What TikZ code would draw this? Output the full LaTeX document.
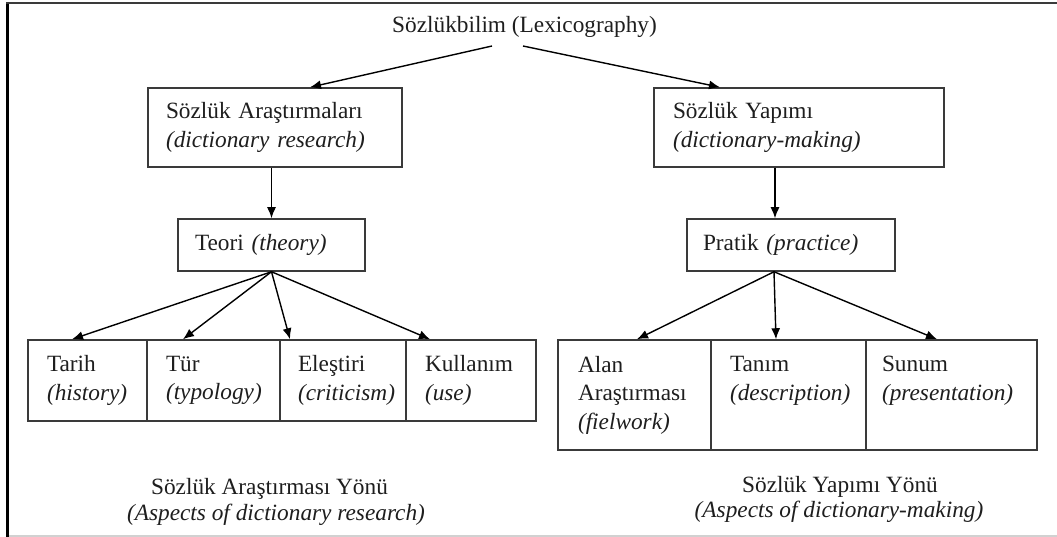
\documentclass[tikz,border=0pt]{standalone}
\usepackage{fontspec}
\setmainfont{Liberation Serif}
\usetikzlibrary{arrows.meta,calc}
\definecolor{boxc}{HTML}{3A3A3A}
\definecolor{txtc}{HTML}{1E1E1E}
\begin{document}
\begin{tikzpicture}[x=1pt,y=-1pt,
  txt/.style={inner sep=0pt, text=txtc, font=\fontsize{23.3}{28.5}\selectfont},
  box/.style={draw=boxc, line width=1.5pt, align=left, inner ysep=0pt, text=txtc,
    font=\fontsize{23.3}{28.5}\selectfont, anchor=center},
  arr/.style={-{Latex[length=11pt,width=9pt]}, line width=1.4pt, draw=black},
]
\useasboundingbox (0,0) rectangle (1057,537);
\fill[white] (0,0) rectangle (1057,537);
% frame
\draw[line width=3pt, black] (7.5,2) -- (7.5,537);
\draw[line width=2pt, boxc] (6,3) -- (1057,3);
\draw[line width=1.5pt, black!18] (9,536) -- (1057,536);

% title
\node[txt, anchor=base] (title) at (524.5,33) {Sözlükbilim (Lexicography)};

% second level
\node[box, minimum width=254pt, minimum height=79pt, text width=218pt, inner xsep=18pt]
  (box1) at (275,127.5) {Sözlük Araştırmaları\\\textit{(dictionary research)}};
\node[box, minimum width=290pt, minimum height=79pt, text width=252pt, inner xsep=19pt]
  (box2) at (799,127.5) {Sözlük Yapımı\\\textit{(dictionary-making)}};

% third level
\node[box, minimum width=187pt, minimum height=52pt, text width=153pt, inner xsep=17pt]
  (teori) at (271.5,245) {Teori \textit{(theory)}};
\node[box, minimum width=208pt, minimum height=52pt, text width=176pt, inner xsep=16pt]
  (pratik) at (791,245) {Pratik \textit{(practice)}};

% bottom left row
\node[box, minimum width=119pt, minimum height=81pt, text width=81pt, inner xsep=19pt]
  (tarih) at (87.5,380.5) {Tarih\\\textit{(history)}};
\node[box, minimum width=133pt, minimum height=81pt, text width=95pt, inner xsep=19pt]
  (tur) at (213.5,380.5) {Tür\\\textit{(typology)}};
\node[box, minimum width=126pt, minimum height=81pt, text width=90pt, inner xsep=18pt]
  (elestiri) at (343,380.5) {Eleştiri\\\textit{(criticism)}};
\node[box, minimum width=130pt, minimum height=81pt, text width=92pt, inner xsep=19pt]
  (kullanim) at (471,380.5) {Kullanım\\\textit{(use)}};

% bottom right row
\node[box, minimum width=153pt, minimum height=110pt, text width=113pt, inner xsep=20pt]
  (alan) at (634.5,395) {Alan\\Araştırması\\\textit{(fielwork)}};
\node[box, minimum width=155pt, minimum height=110pt, text width=117pt, inner xsep=19pt]
  (tanim) at (788.5,395) {Tanım\\\textit{(description)}\\\phantom{(}};
\node[box, minimum width=171pt, minimum height=110pt, text width=139pt, inner xsep=16pt]
  (sunum) at (951.5,395) {Sunum\\\textit{(presentation)}\\\phantom{(}};

% captions
\node[txt, anchor=base] (capL1) at (269.5,494.6) {Sözlük Araştırması Yönü};
\node[txt, anchor=base] (capL2) at (276,520) {\textit{(Aspects of dictionary research)}};
\node[txt, anchor=base] (capR1) at (840,492.7) {Sözlük Yapımı Yönü};
\node[txt, anchor=base] (capR2) at (839,517) {\textit{(Aspects of dictionary-making)}};

% connectors
\coordinate (tL) at ($(title.base)+(-32.5,13)$);
\coordinate (tR) at ($(title.base)+(-1.5,13)$);
\draw[arr] (tL) -- ([xshift=35pt]box1.north);
\draw[arr] (tR) -- ([xshift=-79pt]box2.north);

\draw[arr] (box1.south -| teori.north) -- (teori.north);
\coordinate (pin) at ([xshift=-16pt]pratik.north);
\coordinate (pout) at (pin |- box2.south);
\draw[arr] (pout) -- (pin);

\draw[arr] (teori.south) -- ([xshift=-15.5pt]tarih.north);
\draw[arr] (teori.south) -- ([xshift=-30.5pt]tur.north);
\draw[arr] (teori.south) -- ([xshift=-53pt]elestiri.north);
\draw[arr] (teori.south) -- ([xshift=-41pt]kullanim.north);

\coordinate (pbot) at ([xshift=-17pt]pratik.south);
\draw[arr] (pbot) -- ([xshift=2.5pt]alan.north);
\draw[arr] (pbot) -- ([xshift=-12.5pt]tanim.north);
\draw[arr] (pbot) -- ([xshift=-14.5pt]sunum.north);
\end{tikzpicture}
\end{document}
